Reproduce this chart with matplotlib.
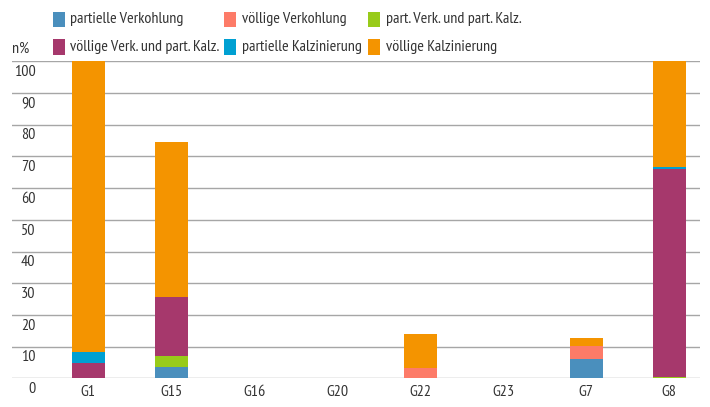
import matplotlib
matplotlib.use('Agg')
import matplotlib.pyplot as plt
import matplotlib.transforms as transforms
from matplotlib.patches import Rectangle
import numpy as np

plt.rcParams['font.family'] = ['PT Sans Narrow', 'DejaVu Sans']

groups = ['G1', 'G15', 'G16', 'G20', 'G22', 'G23', 'G7', 'G8']
labels = ['partielle Verkohlung', 'völlige Verkohlung', 'part. Verk. und part. Kalz.',
          'völlige Verk. und part. Kalz.', 'partielle Kalzinierung', 'völlige Kalzinierung']
colors = ['#4a8fbd', '#fd7b68', '#98cb1a', '#a6386c', '#00a0d2', '#f49400']

part_verk = [0, 3.6, 0, 0, 0, 0, 6.1, 0]
voll_verk = [0, 0, 0, 0, 3.1, 0, 4.1, 0]
part_verk_kalz = [0, 3.4, 0, 0, 0, 0, 0, 0.5]
voll_verk_kalz = [4.9, 18.8, 0, 0, 0, 0, 0, 65.5]
part_kalz = [3.4, 0, 0, 0, 0, 0, 0, 0.7]
voll_kalz = [91.7, 48.7, 0, 0, 10.9, 0, 2.6, 33.3]
series = [part_verk, voll_verk, part_verk_kalz, voll_verk_kalz, part_kalz, voll_kalz]
yticks = list(range(0, 101, 10))

W, H = 710, 407
txt = '#333333'
fs = 11.5
fig = plt.figure(figsize=(W/100, H/100), dpi=100)
ax = fig.add_axes([12/W, 1 - 378.3/H, 688/W, 317/H])

x = np.arange(len(groups))
bottom = np.zeros(len(groups))
for vals, c in zip(series, colors):
    ax.bar(x, vals, 0.4, bottom=bottom, color=c, linewidth=0, zorder=3)
    bottom += np.array(vals)

ax.set_xlim(-0.92, 7.37)
ax.set_ylim(0, 100)
for s in ax.spines.values():
    s.set_visible(False)
ax.set_yticks([])
for v in yticks:
    ax.axhline(v, color='#a6a6a6', lw=1.0, zorder=1)
# value labels sit just under each grid line
trans = transforms.blended_transform_factory(ax.transAxes, ax.transData)
for v in yticks:
    ax.text(0.034, v - 3.4, str(v), transform=trans, ha='right', va='center',
            fontsize=fs, color=txt, clip_on=False)
ax.text(0.0, 103.8, 'n%', transform=trans, ha='left', va='center',
        fontsize=fs, color=txt, clip_on=False)

ax.set_xticks(x)
ax.set_xticklabels(groups, fontsize=fs, color=txt)
ax.tick_params(axis='x', length=0, pad=5)

# legend: three columns, two rows, read row by row
col_x = [53, 224, 368]
row_y = [19.5, 47]
for i, (lab, c) in enumerate(zip(labels, colors)):
    px, py = col_x[i % 3], row_y[i // 3]
    fig.add_artist(Rectangle((px/W, 1 - (py + 7.5)/H), 11.5/W, 15/H,
                             transform=fig.transFigure, color=c, lw=0))
    fig.text((px + 17.5)/W, 1 - py/H, lab, ha='left', va='center',
             fontsize=fs, color=txt)

fig.savefig('out.png', dpi=100)
